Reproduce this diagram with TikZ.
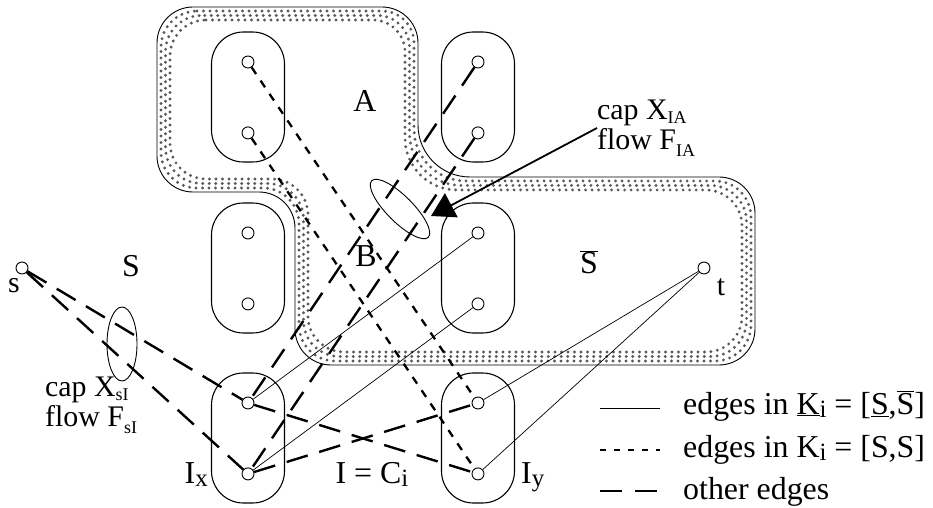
\documentclass[tikz,border=0pt]{standalone}
\usepackage{fontspec}
\setmainfont{Liberation Serif}
\usetikzlibrary{arrows.meta,positioning}
% lowered small index (K_i, C_i, I_x)
\newcommand\idx[1]{\raisebox{-3bp}{\fontsize{25}{25}\selectfont #1}}
% lowered tiny subscript (X_sI, F_IA)
\newcommand\lowr[2][4bp]{\raisebox{-#1}{\fontsize{18}{18}\selectfont #2}}
\newcommand\obar[1]{$\overline{\mbox{#1}}$}
% outline of the region, pulled inwards by #1
\newcommand\rimpath[1]{(157+#1,7+#1) -- (418-#1,7+#1) [rounded corners=52bp] -- (418-#1,177+#1)
  [rounded corners=36bp] -- (755-#1,177+#1) -- (755-#1,365-#1) -- (295+#1,365-#1)
  -- (295+#1,192-#1) -- (157+#1,192-#1) -- cycle}
\tikzset{
  vtx/.style={circle, draw, fill=white, line width=0.9bp, inner sep=0pt, minimum size=12bp},
  grp/.style={draw, line width=1.1bp, rounded corners=32bp, minimum width=73bp, minimum height=130bp},
  kedge/.style={line width=0.7bp},
  kbar/.style={line width=2.3bp, dash pattern=on 8bp off 8bp},
  oedge/.style={line width=2.4bp, dash pattern=on 22bp off 12bp},
  rim/.style={line width=0.9bp, rounded corners=36bp},
  banddots/.style={draw=black!65, line width=3.2bp, line cap=round, dash pattern=on 0pt off 6.5bp, rounded corners=32bp},
  capring/.style={line width=0.9bp},
  capptr/.style={-{Triangle[length=23bp, width=27bp]}, line width=1.8bp},
  lbl/.style={font=\fontsize{32}{34}\selectfont, inner sep=0pt},
  sublbl/.style={font=\fontsize{30}{30}\selectfont, inner sep=0pt, align=left},
  lgd/.style={font=\fontsize{32}{34}\selectfont, inner sep=0pt, anchor=base west}
}
\begin{document}
\begin{tikzpicture}[x=1bp, y=-1bp]
  \useasboundingbox (0,0) rectangle (933,508);
  % region with its dotted rim
  \draw[banddots] \rimpath{4};
  \draw[banddots, dash phase=3.2bp] \rimpath{8.5};
  \draw[banddots] \rimpath{13};
  \draw[rim] \rimpath{0};

  % vertex groups
  \node[grp] (gtl) at (248,97) {};
  \node[grp] (gtr) at (478,97) {};
  \node[grp] (gml) at (248,268) {};
  \node[grp] (gmr) at (478,268) {};
  \node[grp] (gx)  at (248,438) {};
  \node[grp] (gy)  at (478,438) {};

  % vertices
  \node[vtx] (a1) at (248,62) {};
  \node[vtx, below=58bp of a1] (a2) {};
  \node[vtx] (b1) at (478,62) {};
  \node[vtx, below=58bp of b1] (b2) {};
  \node[vtx] (c1) at (248,233) {};
  \node[vtx, below=58bp of c1] (c2) {};
  \node[vtx] (d1) at (478,233) {};
  \node[vtx, below=58bp of d1] (d2) {};
  \node[vtx] (x1) at (248,403) {};
  \node[vtx, below=58bp of x1] (x2) {};
  \node[vtx] (y1) at (478,403) {};
  \node[vtx, below=58bp of y1] (y2) {};
  \node[vtx] (s) at (22,268) {};
  \node[vtx] (t) at (704,268) {};

  % edges in K_i
  \draw[kedge] (x1) -- (d1);
  \draw[kedge] (x2) -- (d2);
  \draw[kedge] (y1) -- (t);
  \draw[kedge] (y2) -- (t);
  % edges in K_i bar
  \draw[kbar] (a1) -- (y1);
  \draw[kbar] (a2) -- (y2);
  % other edges
  \draw[oedge] (s) -- (x1);
  \draw[oedge] (s) -- (x2);
  \draw[oedge] (x1) -- (y2);
  \draw[oedge] (x2) -- (y1);
  \draw[oedge] (b1) -- (x1);
  \draw[oedge] (b2) -- (x2);

  % cuts
  \draw[capring] (400,209) circle[x radius=40bp, y radius=13bp, rotate=-45];
  \draw[capring] (122,344) circle[x radius=15bp, y radius=37bp];

  % labels
  \node[lbl] (lblA) at (365,101) {A};
  \node[lbl] (lblB) at (366,256) {B};
  \node[lbl] (lblS) at (131,266) {S};
  \node[lbl] (lblSb) at (589,262) {\obar{S}};
  \node[sublbl] (lbls) at (14,286) {s};
  \node[sublbl] (lblt) at (721,287) {t};
  \node[lbl, anchor=base] (lblI) at (372,483) {I = C\idx{i}};
  \node[lbl, anchor=base east] (lblIx) at (208,483) {I\idx{x}};
  \node[lbl, anchor=base west] (lblIy) at (521,483) {I\idx{y}};
  \node[sublbl, anchor=west] (capsI) at (45,405) {cap X\lowr{sI}\\flow F\lowr[7bp]{sI}};
  \node[sublbl, anchor=west] (capIA) at (597,128) {cap X\lowr{IA}\\flow F\lowr[7bp]{IA}};
  \coordinate (tipIA) at (431,216);
  \draw[capptr] (capIA.west) -- (tipIA);

  % legend
  \coordinate (k1a) at (600,408);
  \coordinate (k1b) at (660,408);
  \coordinate (k2a) at (600,450);
  \coordinate (k2b) at (660,450);
  \coordinate (k3a) at (600,491);
  \coordinate (k3b) at (660,491);
  \draw[kedge] (k1a) -- (k1b);
  \draw[kbar, dash pattern=on 6bp off 8bp] (k2a) -- (k2b);
  \draw[oedge, dash pattern=on 22bp off 13bp] (k3a) -- (k3b);
  \node[lgd] (lg1) at (683,414) {edges in \underline{K}\idx{i} = [\underline{S},\obar{S}]};
  \node[lgd] (lg2) at (683,457) {edges in K\idx{i} = [S,S]};
  \node[lgd] (lg3) at (683,499) {other edges};
\end{tikzpicture}
\end{document}
